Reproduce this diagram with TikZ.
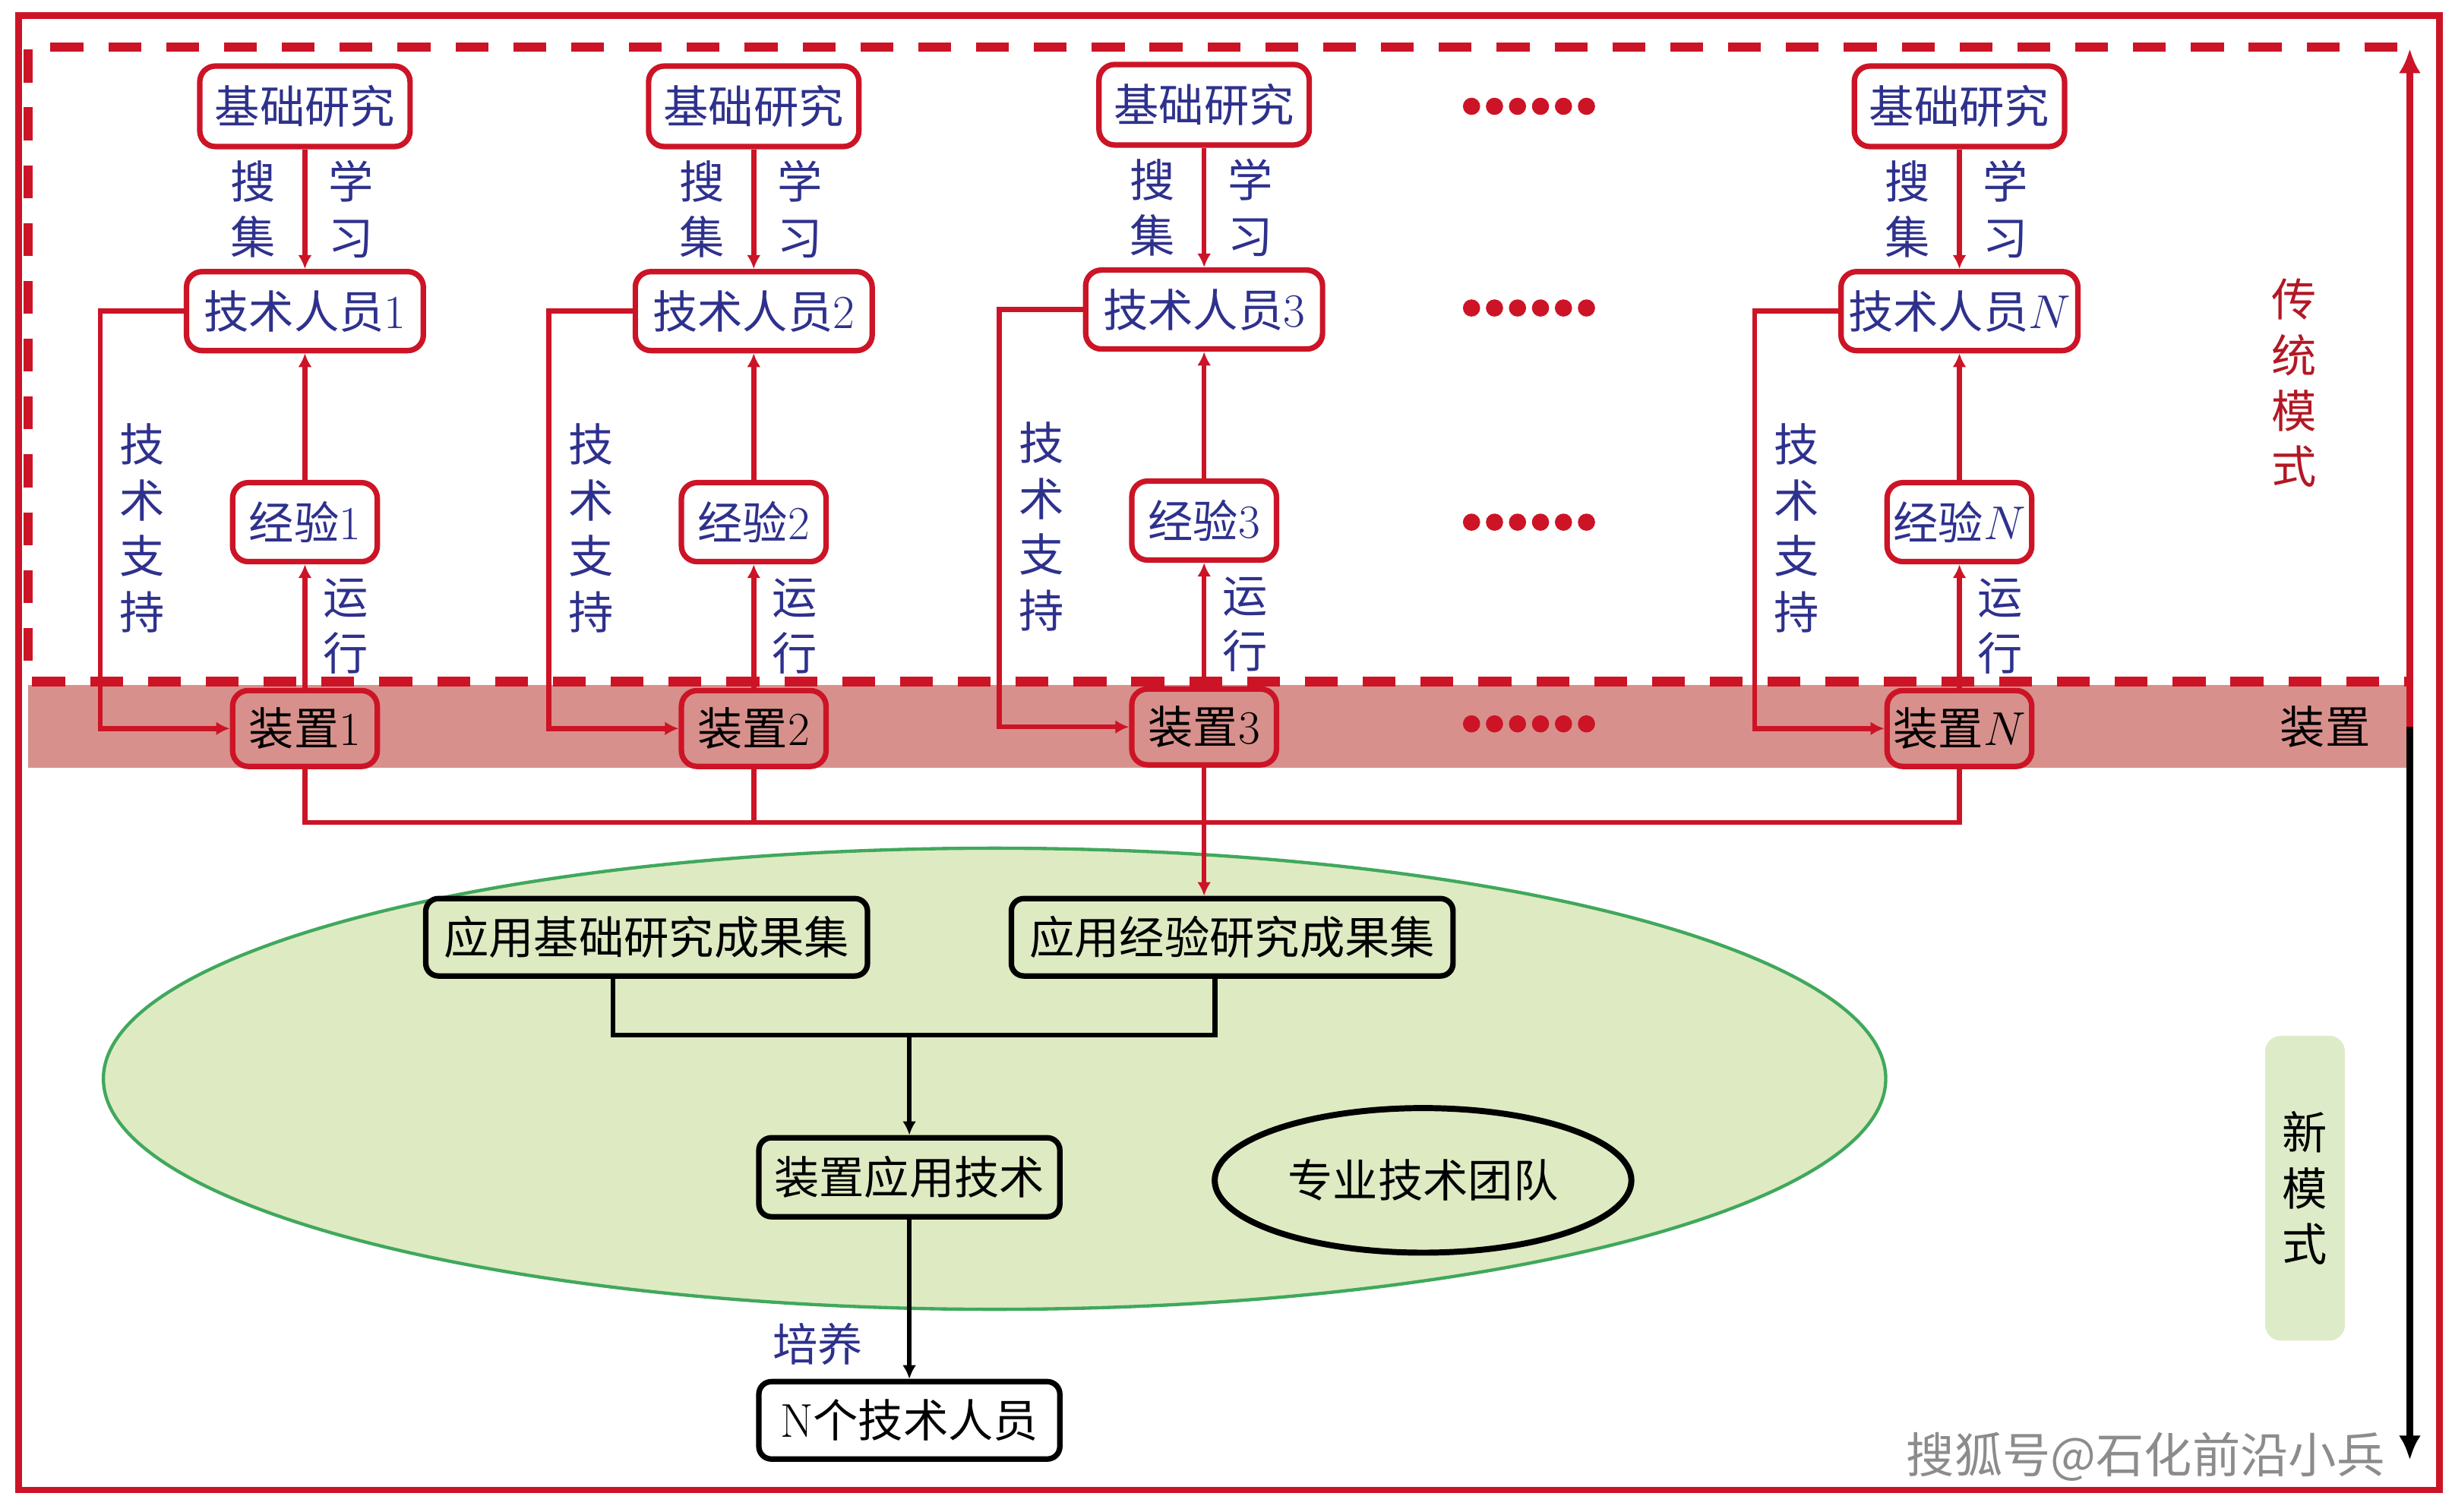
\documentclass[tikz,border=0pt]{standalone}
\usepackage[no-math]{fontspec}
\setmainfont{Noto Sans CJK SC}
\usepackage{xcolor}
\usepackage{tikz}
\usetikzlibrary{arrows.meta,positioning,shapes.geometric}
\definecolor{framered}{RGB}{204,20,38}
\definecolor{bandpink}{RGB}{216,144,140}
\definecolor{labelnavy}{RGB}{46,49,140}
\definecolor{modered}{RGB}{178,24,36}
\definecolor{zonegreen}{RGB}{222,234,194}
\definecolor{zoneedge}{RGB}{64,168,92}
\definecolor{modegreen}{RGB}{222,235,200}
\newcommand\figfont{\fontsize{16.4}{20.3}\selectfont}
\newcommand\markfont{\fontsize{17.5}{20}\selectfont}
\tikzset{
    basebox/.style={
        rectangle,
        rounded corners=2mm,
        draw=framered,
        line width=2pt,
        fill=white,
        text=labelnavy,
        inner sep=0pt,
        font=\figfont
    },
    basicnode/.style={basebox, minimum width=2.69cm, minimum height=1.03cm},
    technode/.style={basebox, minimum width=3.03cm, minimum height=1.01cm},
    expnode/.style={basebox, minimum width=1.85cm, minimum height=1.01cm},
    devnode/.style={basebox, fill=bandpink, text=black, minimum width=1.85cm, minimum height=0.97cm},
    newbox/.style={basebox, draw=black, rounded corners=1.6mm, fill=zonegreen, text=black},
    setnode/.style={newbox, minimum width=5.65cm, minimum height=0.99cm},
    appnode/.style={newbox, minimum width=3.85cm, minimum height=1.01cm},
    crewnode/.style={newbox, fill=white, minimum width=3.85cm, minimum height=0.99cm},
    teamnode/.style={ellipse, draw=black, line width=2.2pt, minimum width=5.33cm, minimum height=1.85cm, inner sep=0pt, font=\figfont},
    zonenode/.style={ellipse, draw=zoneedge, line width=1.2pt, fill=zonegreen, minimum width=22.8cm, minimum height=5.9cm},
    modebox/.style={rectangle, rounded corners=2mm, fill=modegreen, minimum width=1.02cm, minimum height=3.9cm, align=center, inner sep=0pt, font=\figfont},
    vlabel/.style={align=center, inner sep=0pt, text=labelnavy, font=\figfont},
    line/.style={draw=framered, line width=1.8pt},
    arrowline/.style={line, -{Latex[length=5pt,width=5pt]}},
    blackline/.style={draw=black, line width=1.8pt},
    blackarrow/.style={blackline, -{Latex[length=5pt,width=5pt]}},
    rail/.style={line width=2.4pt, -{Latex[length=9pt,width=8pt]}},
}

\begin{document}
\begin{tikzpicture}[x=0.02cm, y=-0.02cm, font=\figfont]
    \useasboundingbox (0,0) rectangle (1568,967);
    \fill[bandpink] (18,438) rectangle (1539,491);
    \draw[framered, line width=2.4pt] (12,10) rectangle (1560,953);
    \draw[framered, line width=3.4pt, dash pattern=on 0.42cm off 0.32cm] (1533,30) -- (18,30) -- (18,436) -- (1541,436);
    \node[zonenode] (newzone) at (636,690) {};

    \node[basicnode] (basic1) at (195,68) {基础研究};
    \node[technode, below=1.53cm of basic1] (tech1) {技术人员$1$};
    \node[expnode, below=1.62cm of tech1] (exp1) {经验$1$};
    \node[devnode, below=1.58cm of exp1] (dev1) {装置$1$};

    \node[basicnode] (basic2) at (482,68) {基础研究};
    \node[technode, below=1.53cm of basic2] (tech2) {技术人员$2$};
    \node[expnode, below=1.62cm of tech2] (exp2) {经验$2$};
    \node[devnode, below=1.58cm of exp2] (dev2) {装置$2$};

    \node[basicnode] (basic3) at (770,67) {基础研究};
    \node[technode, below=1.53cm of basic3] (tech3) {技术人员$3$};
    \node[expnode, below=1.62cm of tech3] (exp3) {经验$3$};
    \node[devnode, below=1.58cm of exp3] (dev3) {装置$3$};

    \node[basicnode] (basicN) at (1253,68) {基础研究};
    \node[technode, below=1.53cm of basicN] (techN) {技术人员$N$};
    \node[expnode, below=1.62cm of techN] (expN) {经验$N$};
    \node[devnode, below=1.58cm of expN] (devN) {装置$N$};

    \foreach \rowy in {68,197,334,463}
        \foreach \k in {0,...,5}
            \fill[framered] (941+14.7*\k,\rowy) circle (1.1mm);

    \draw[arrowline] (basic1) -- node[left=0.34cm, vlabel] {搜\\集} node[right=0.27cm, vlabel] {学\\习} (tech1);
    \draw[arrowline] (exp1) -- (tech1);
    \draw[arrowline] (dev1) -- node[right=0.2cm, vlabel] {运\\行} (exp1);
    \draw[arrowline] (tech1.west) -- ++(-53.5,0) |- node[pos=0.26, right=0.22cm, vlabel] {技\\术\\支\\持} (dev1.west);

    \draw[arrowline] (basic2) -- node[left=0.34cm, vlabel] {搜\\集} node[right=0.27cm, vlabel] {学\\习} (tech2);
    \draw[arrowline] (exp2) -- (tech2);
    \draw[arrowline] (dev2) -- node[right=0.2cm, vlabel] {运\\行} (exp2);
    \draw[arrowline] (tech2.west) -- ++(-53.5,0) |- node[pos=0.26, right=0.22cm, vlabel] {技\\术\\支\\持} (dev2.west);

    \draw[arrowline] (basic3) -- node[left=0.34cm, vlabel] {搜\\集} node[right=0.27cm, vlabel] {学\\习} (tech3);
    \draw[arrowline] (exp3) -- (tech3);
    \draw[arrowline] (dev3) -- node[right=0.2cm, vlabel] {运\\行} (exp3);
    \draw[arrowline] (tech3.west) -- ++(-53.5,0) |- node[pos=0.26, right=0.22cm, vlabel] {技\\术\\支\\持} (dev3.west);

    \draw[arrowline] (basicN) -- node[left=0.34cm, vlabel] {搜\\集} node[right=0.27cm, vlabel] {学\\习} (techN);
    \draw[arrowline] (expN) -- (techN);
    \draw[arrowline] (devN) -- node[right=0.2cm, vlabel] {运\\行} (expN);
    \draw[arrowline] (techN.west) -- ++(-53.5,0) |- node[pos=0.26, right=0.22cm, vlabel] {技\\术\\支\\持} (devN.west);

    \node[setnode] (basicset) at (413.5,599.5) {应用基础研究成果集};
    \node[setnode, right=1.77cm of basicset] (expset) {应用经验研究成果集};
    \node[appnode] (apptech) at (581.5,753) {装置应用技术};
    \node[crewnode, below=2.04cm of apptech] (crew) {$\mathrm{N}$个技术人员};
    \node[teamnode] (team) at (910,755) {专业技术团队};

    \draw[line] (dev1.south) -- ++(0,34) -| (devN.south);
    \draw[line] (dev2.south) -- ++(0,34);
    \draw[arrowline] (dev3.south) -- (dev3.south |- expset.north);
    \draw[blackline] ([xshift=-0.43cm]basicset.south) -- ++(0,36) coordinate (mergeleft) -| ([xshift=-0.22cm]expset.south);
    \draw[blackarrow] (mergeleft -| apptech.north) -- (apptech.north);
    \draw[blackarrow] (apptech) -- node[pos=0.78, left=0.56cm, vlabel] {培养} (crew);

    \coordinate (railmid) at (1541,465);
    \coordinate (railtop) at (1541,31);
    \coordinate (railend) at (1541,934);
    \draw[rail, framered] (railmid) -- (railtop);
    \draw[rail, black] (railmid) -- (railend);

    \node[vlabel, text=modered] (oldmode) at (1467,245) {传\\统\\模\\式};
    \node[text=black] (bandlabel) at (1487,465) {装置};
    \node[modebox] (newmode) at (1474,760) {新\\模\\式};
    \node[text=black!45, font=\markfont] (mark) at (1372,932) {搜狐号@石化前沿小兵};
\end{tikzpicture}
\end{document}
